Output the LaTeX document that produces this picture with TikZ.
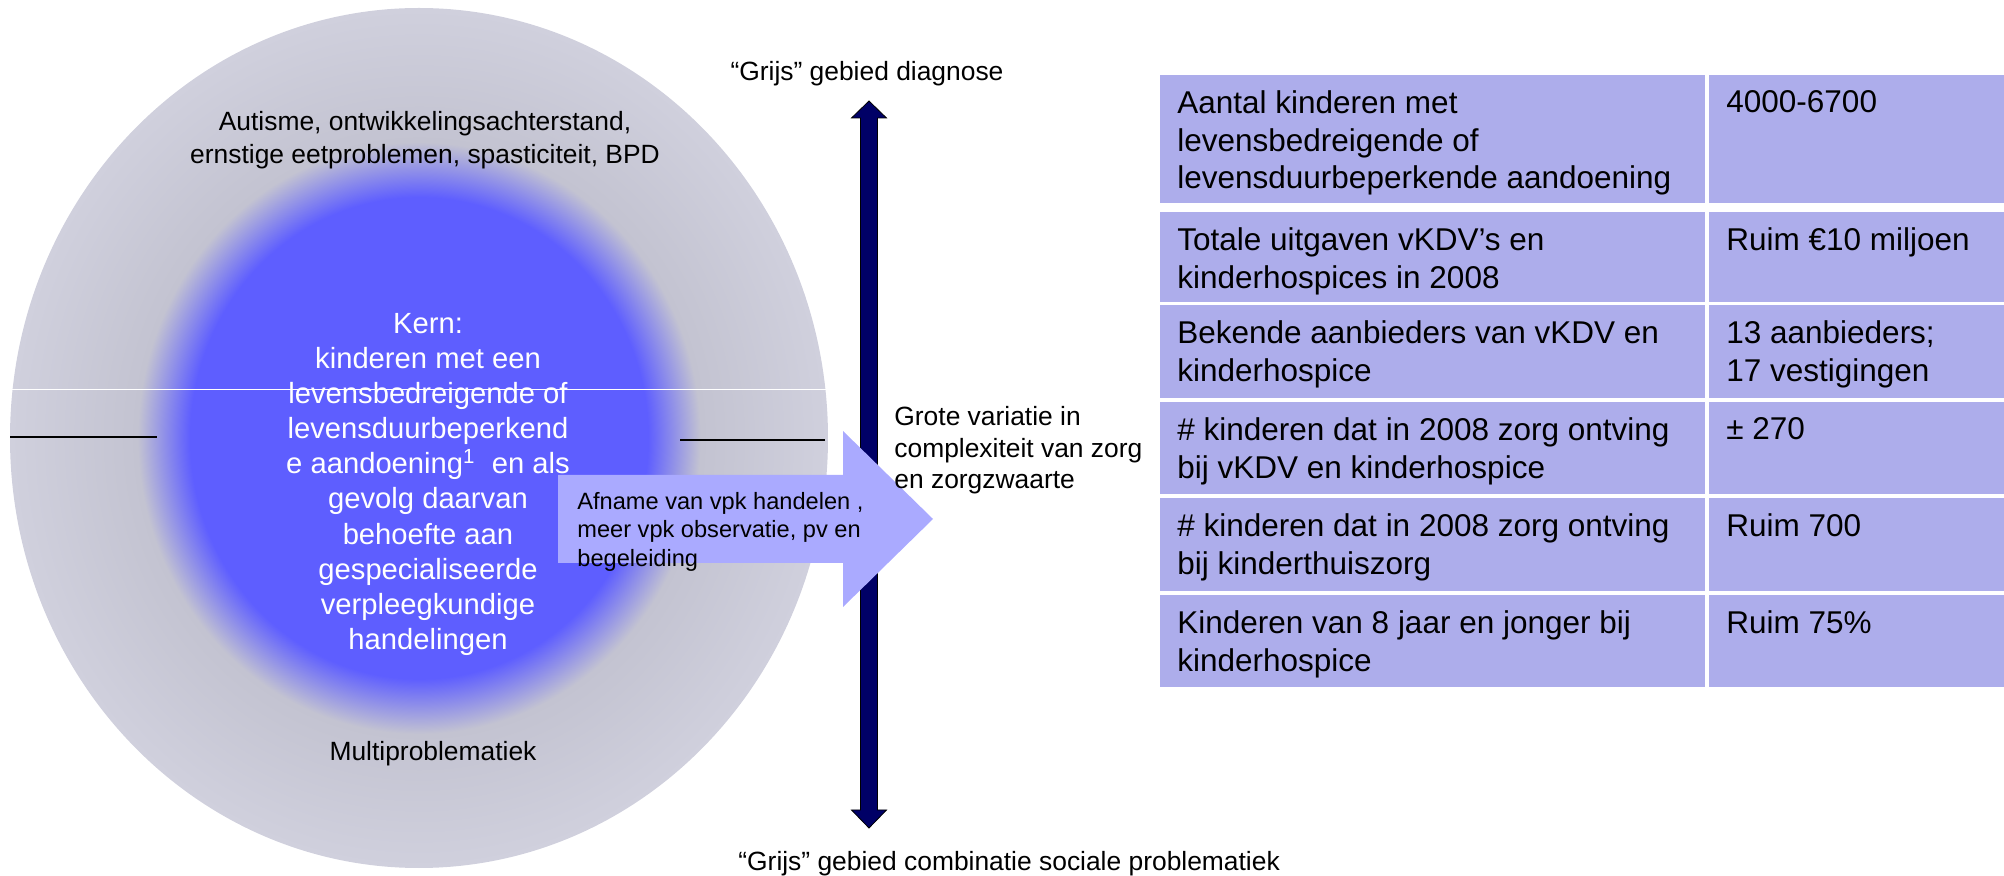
\documentclass[tikz,border=0pt]{standalone}
\usepackage{fontspec}
\setmainfont{Liberation Sans}
\usepackage{xcolor}
\usetikzlibrary{calc}

\definecolor{kernblue}{RGB}{94,94,255}
\definecolor{ringgray}{RGB}{195,195,209}
\definecolor{rimgray}{RGB}{208,208,221}
\colorlet{kernmix}{kernblue!50!ringgray}
\definecolor{tablepaars}{RGB}{173,173,235}
\definecolor{pijlblauw}{RGB}{170,170,255}
\definecolor{asblauw}{RGB}{0,0,102}
\pgfdeclareradialshading{kernshade}{\pgfpointorigin}{color(0bp)=(kernblue); color(14bp)=(kernblue); color(15.6bp)=(kernmix); color(17.2bp)=(ringgray); color(25bp)=(rimgray); color(50bp)=(rimgray)}

\begin{document}
\begin{tikzpicture}[x=0.5pt,y=-0.5pt,
  cel/.style={fill=tablepaars},
  tabtxt/.style={anchor=north west,inner sep=0pt,align=left,font=\fontsize{15.75pt}{18.9pt}\selectfont},
  bijtxt/.style={inner sep=0pt,align=center,font=\fontsize{13.2pt}{16.65pt}\selectfont},
  kerntxt/.style={anchor=north,inner sep=0pt,align=center,text=white,font=\fontsize{14.6pt}{17.55pt}\selectfont},
  pijltxt/.style={anchor=north west,inner sep=0pt,align=left,font=\fontsize{11.8pt}{14.2pt}\selectfont}]
\useasboundingbox (0,0) rectangle (2004,876);

\shade[shading=kernshade] (419,438) ellipse [x radius=409, y radius=430]; %grijze cirkel met blauwe kern
\draw[white, line width=0.5pt] (12,390) -- (826,390); %witte lijn
\draw[line width=0.9pt] (10,437) -- (157,437); %links
\draw[line width=0.9pt] (680,440) -- (825,440); %rechts

\node[bijtxt, anchor=north] (autisme) at (425,111) {Autisme, ontwikkelingsachterstand,\\ernstige eetproblemen, spasticiteit, BPD};
\node[kerntxt] (kern) at (428,313) {Kern:\\kinderen met een\\levensbedreigende of\\levensduurbeperkend\\e aandoening\textsuperscript{1}\ \ en als\\gevolg daarvan\\behoefte aan\\gespecialiseerde\\verpleegkundige\\handelingen};
\node[bijtxt, anchor=north] (multi) at (433,741) {Multiproblematiek};

%verticale pijl
\coordinate (astop) at (869,101);
\coordinate (asbodem) at (869,828);
\filldraw[fill=asblauw, draw=black, line width=0.4pt] (astop) -- ++(17.5,17) -- ++(-9,0) -- ($(asbodem)+(8.5,-18)$) -- ++(9,0) -- (asbodem) -- ++(-17.5,-18) -- ++(9,0) -- ($(astop)+(-8.5,17)$) -- ++(-9,0) -- cycle;
\node[bijtxt, anchor=north] (diagnose) at (867,61) {“Grijs” gebied diagnose};
\node[bijtxt, anchor=north west] (sociaal) at (738,851) {“Grijs” gebied combinatie sociale problematiek};

\fill[pijlblauw] (558,475) -- (843,475) -- (843,431) -- (933,519) -- (843,607) -- (843,563) -- (558,563) -- cycle; %brede pijl
\node[pijltxt] (afname) at (577,492) {Afname van vpk handelen ,\\meer vpk observatie, pv en\\begeleiding};
\node[bijtxt, anchor=north west, align=left, font=\fontsize{13.2pt}{15.75pt}\selectfont] (variatie) at (894,406) {Grote variatie in\\complexiteit van zorg\\en zorgzwaarte};
%%%%%%%%%%%%%%%%%%%%%%%%%%%%%%%%%%%%%%%%%%%%%%%%%%%%%%%%%%%%%%%%%%%%%%%%%%%%%%%%%%%%
\fill[cel] (1160,75) rectangle (1705,203); \fill[cel] (1709,75) rectangle (2004,203); %rij 1
\fill[cel] (1160,212) rectangle (1705,302); \fill[cel] (1709,212) rectangle (2004,302); %2
\fill[cel] (1160,305) rectangle (1705,398); \fill[cel] (1709,305) rectangle (2004,398); %3
\fill[cel] (1160,402) rectangle (1705,494); \fill[cel] (1709,402) rectangle (2004,494); %4
\fill[cel] (1160,498) rectangle (1705,591); \fill[cel] (1709,498) rectangle (2004,591); %5
\fill[cel] (1160,595) rectangle (1705,687); \fill[cel] (1709,595) rectangle (2004,687); %6

\node[tabtxt] (aantal) at (1177,90) {Aantal kinderen met\\levensbedreigende of\\levensduurbeperkende aandoening};
\node[tabtxt] (aantalw) at (1726,90) {4000-6700};
\node[tabtxt] (uitgaven) at (1177,227) {Totale uitgaven vKDV’s en\\kinderhospices in 2008};
\node[tabtxt] (uitgavenw) at (1726,227) {Ruim €10 miljoen};
\node[tabtxt] (aanbieders) at (1177,320) {Bekende aanbieders van vKDV en\\kinderhospice};
\node[tabtxt] (aanbiedersw) at (1726,320) {13 aanbieders;\\17 vestigingen};
\node[tabtxt] (zorgkdv) at (1177,417) {\# kinderen dat in 2008 zorg ontving\\bij vKDV en kinderhospice};
\node[tabtxt] (zorgkdvw) at (1726,417) {± 270};
\node[tabtxt] (thuiszorg) at (1177,513) {\# kinderen dat in 2008 zorg ontving\\bij kinderthuiszorg};
\node[tabtxt] (thuiszorgw) at (1726,513) {Ruim 700};
\node[tabtxt] (jonger) at (1177,610) {Kinderen van 8 jaar en jonger bij\\kinderhospice};
\node[tabtxt] (jongerw) at (1726,610) {Ruim 75\%};
\end{tikzpicture}
\end{document}
